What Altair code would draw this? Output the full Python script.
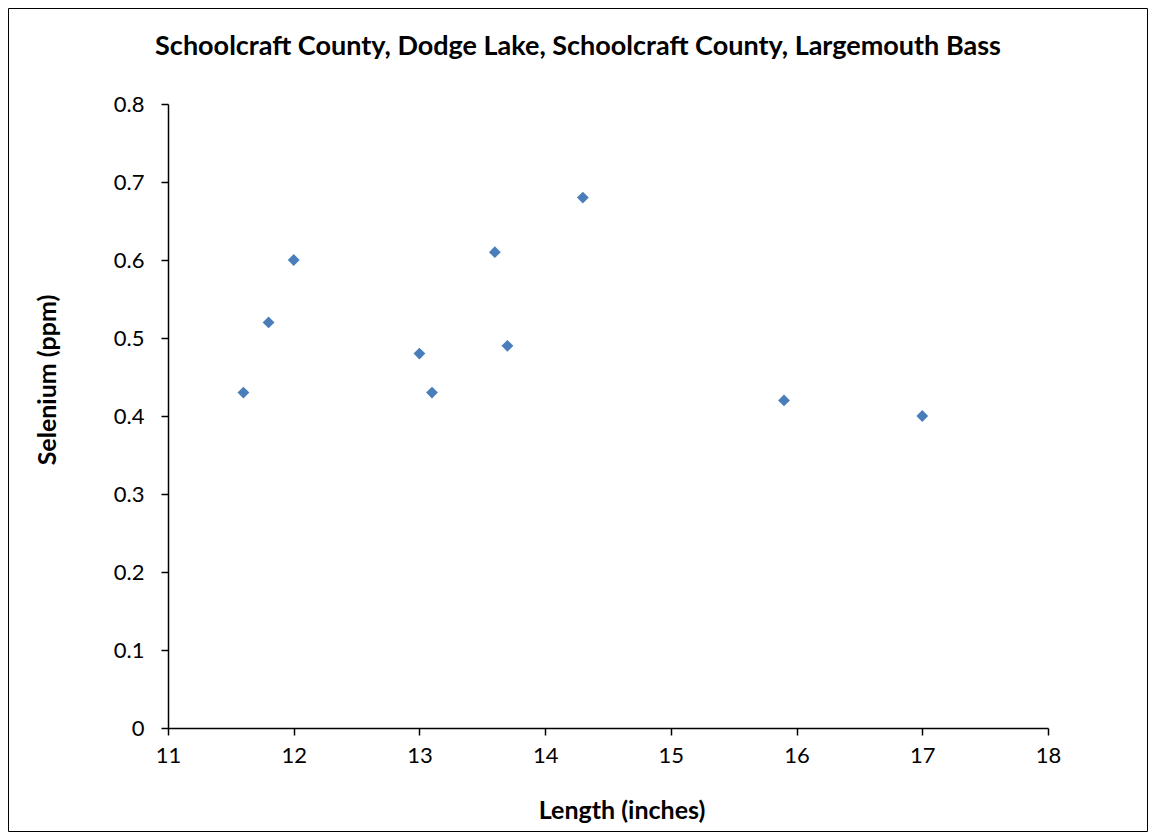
import altair as alt
import pandas as pd

length_in = [11.6, 11.8, 12.0, 13.0, 13.1, 13.6, 13.7, 14.3, 15.9, 17.0]
selenium_ppm = [0.43, 0.52, 0.60, 0.48, 0.43, 0.61, 0.49, 0.68, 0.42, 0.40]

title_text = "Schoolcraft County, Dodge Lake, Schoolcraft County, Largemouth Bass"
x_title = "Length (inches)"
y_title = "Selenium (ppm)"

df = pd.DataFrame({"len": length_in, "se": selenium_ppm})
FONT = "Lato"
LBL = 22

pts = alt.Chart(df).mark_point(shape="diamond", filled=True, size=140, color="#4A7EBB", opacity=1).encode(
    x=alt.X("len:Q", scale=alt.Scale(domain=[11, 18], nice=False, zero=False),
            axis=alt.Axis(values=list(range(11, 19)), format="d", title=None, grid=False,
                          tickSize=7, labelPadding=10, labelFontSize=LBL, labelFont=FONT,
                          labelColor="black", domainColor="black", tickColor="black",
                          domainWidth=1.5, tickWidth=1.5, labelFlush=False)),
    y=alt.Y("se:Q", scale=alt.Scale(domain=[0, 0.8], nice=False),
            axis=alt.Axis(values=[0, 0.1, 0.2, 0.3, 0.4, 0.5, 0.6, 0.7, 0.8], format="~g",
                          title=None, grid=False,
                          tickSize=7, labelPadding=17, labelFontSize=LBL, labelFont=FONT,
                          labelColor="black", domainColor="black", tickColor="black",
                          domainWidth=1.5, tickWidth=1.5, labelFlush=False)),
)

border = alt.Chart(pd.DataFrame({"a": [0]})).mark_rect(fill=None, stroke="black", strokeWidth=1, clip=False).encode(
    x=alt.value(-159.5), x2=alt.value(979.5), y=alt.value(-95.5), y2=alt.value(727.5)
)

t_title = alt.Chart(pd.DataFrame({"t": [title_text]})).mark_text(
    font=FONT, fontSize=27, fontWeight="bold", align="center", baseline="middle", color="black"
).encode(text="t:N", x=alt.value(410), y=alt.value(-57))

t_x = alt.Chart(pd.DataFrame({"t": [x_title]})).mark_text(
    font=FONT, fontSize=25, fontWeight="bold", align="center", baseline="middle", color="black"
).encode(text="t:N", x=alt.value(454), y=alt.value(707))

t_y = alt.Chart(pd.DataFrame({"t": [y_title]})).mark_text(
    font=FONT, fontSize=25, fontWeight="bold", align="center", baseline="middle", color="black", angle=270
).encode(text="t:N", x=alt.value(-120), y=alt.value(276))

chart = alt.layer(border, pts, t_title, t_x, t_y).properties(
    width=880, height=624,
    autosize=alt.AutoSizeParams(type="none"),
    padding={"left": 160, "top": 96, "right": 100, "bottom": 104},
).configure(background="white").configure_view(stroke=None)

chart.save("out.html", embed_options={"renderer": "svg", "actions": False})
